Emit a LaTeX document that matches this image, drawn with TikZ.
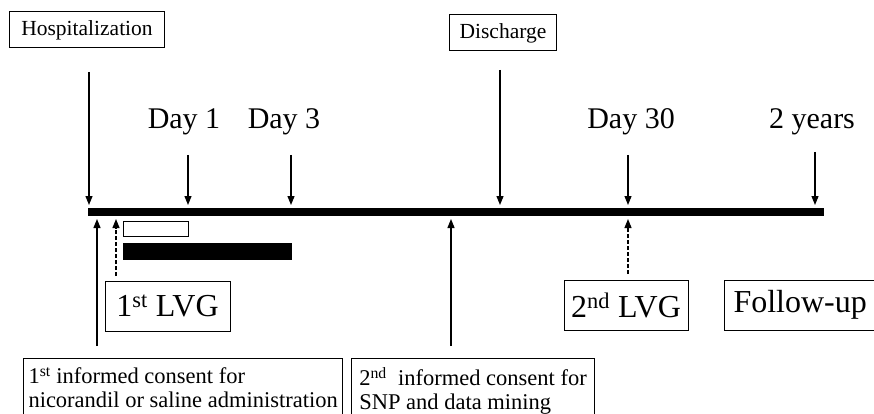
\documentclass[tikz,border=0pt]{standalone}
\usepackage{fontspec}
\setmainfont{Liberation Serif}
\usetikzlibrary{arrows.meta}
\begin{document}
\begin{tikzpicture}[
  x = 1pt, y = -1pt,
  event/.style = {
    shape = rectangle,
    draw = black,
    line width = 1pt,
    font = \fontsize{21.5}{24}\selectfont,
    inner sep = 0pt,
  },
  stage/.style = {
    shape = rectangle,
    draw = black,
    line width = 1pt,
    font = \fontsize{32}{38}\selectfont,
    minimum height = 50pt,
    inner sep = 0pt,
  },
  consent/.style = {
    shape = rectangle,
    draw = black,
    line width = 1pt,
    anchor = north west,
    align = left,
    font = \fontsize{22.5}{24}\selectfont,
    inner xsep = 5pt,
    inner ysep = 9pt,
  },
  day/.style = {
    anchor = base,
    font = \fontsize{30}{34}\selectfont,
  },
  pointer/.style = {
    line width = 1.2pt,
    -{Triangle[length = 9pt, width = 7pt]},
  },
  dashpointer/.style = {
    pointer,
    dash pattern = on 4pt off 2pt,
  }
]
  \clip (0, 0) rectangle (874, 414);

  \node[event, minimum width = 155pt, minimum height = 36pt] (hosp) at (87, 30) {Hospitalization};
  \node[event, minimum width = 107pt, minimum height = 36pt] (disc) at (503, 33) {Discharge};

  \node[day] (day1) at (184, 129) {Day 1};
  \node[day] (day3) at (284, 129) {Day 3};
  \node[day] (day30) at (631, 129) {Day 30};
  \node[day] (years) at (812, 129) {2 years};

  \coordinate (start) at (88, 212);
  \coordinate (end) at (824, 212);
  \draw[line width = 8pt] (start) -- (end);

  \coordinate (hosp top) at (89, 72);
  \coordinate (hosp in) at (89, 205);
  \coordinate (day1 top) at (188, 155);
  \coordinate (day1 in) at (188, 205);
  \coordinate (day3 top) at (291, 155);
  \coordinate (day3 in) at (291, 205);
  \coordinate (disc top) at (500, 70);
  \coordinate (disc in) at (500, 205);
  \coordinate (day30 top) at (628, 155);
  \coordinate (day30 in) at (628, 205);
  \coordinate (years top) at (815, 152);
  \coordinate (years in) at (815, 205);

  \draw[pointer] (hosp top) -- (hosp in);
  \draw[pointer] (day1 top) -- (day1 in);
  \draw[pointer] (day3 top) -- (day3 in);
  \draw[pointer] (disc top) -- (disc in);
  \draw[pointer] (day30 top) -- (day30 in);
  \draw[pointer] (years top) -- (years in);

  \draw[line width = 1pt] (123, 221) rectangle (188, 236);
  \fill (123, 243) rectangle (292, 260);

  \node[stage, minimum width = 125pt] (lvg1) at (167.5, 306) {1\textsuperscript{st} LVG};
  \node[stage, minimum width = 124pt] (lvg2) at (626, 305) {2\textsuperscript{nd} LVG};
  \node[stage, anchor = west, inner xsep = 9pt] (follow) at (724, 305) {Follow-up};

  \node[consent] (cons1) at (23, 358)
    {1\textsuperscript{st} informed consent for\\nicorandil or saline administration};
  \node[consent, minimum width = 243pt] (cons2) at (351, 358)
    {2\textsuperscript{nd}\ \ informed consent for\\SNP and data mining};

  \coordinate (cons1 top) at (97, 346);
  \coordinate (cons1 in) at (97, 219);
  \coordinate (lvg1 top) at (116, 276);
  \coordinate (lvg1 in) at (116, 219);
  \coordinate (cons2 top) at (451, 346);
  \coordinate (cons2 in) at (451, 219);
  \coordinate (lvg2 top) at (628, 274);
  \coordinate (lvg2 in) at (628, 219);

  \draw[pointer] (cons1 top) -- (cons1 in);
  \draw[dashpointer] (lvg1 top) -- (lvg1 in);
  \draw[pointer] (cons2 top) -- (cons2 in);
  \draw[dashpointer] (lvg2 top) -- (lvg2 in);
\end{tikzpicture}
\end{document}
